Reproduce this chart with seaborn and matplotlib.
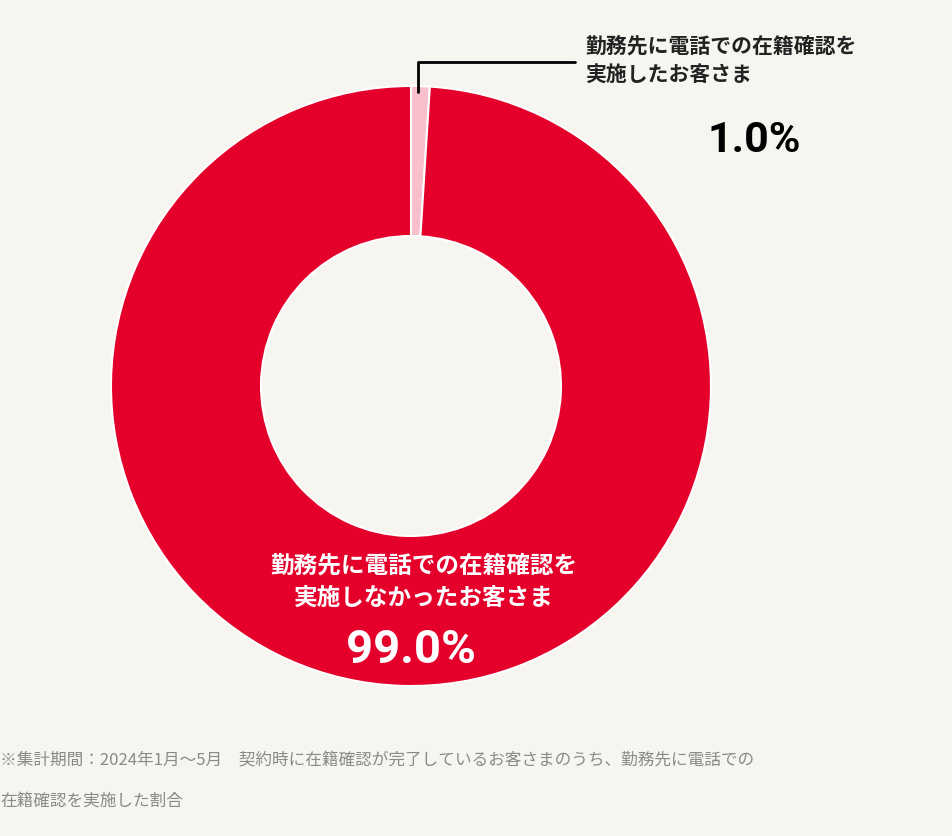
import matplotlib.pyplot as plt
import seaborn as sns

labels = ["勤務先に電話での在籍確認を\n実施したお客さま", "勤務先に電話での在籍確認を\n実施しなかったお客さま"]
shares = [1.0, 99.0]
colors = ["#f9bfca", "#e4002b"]
note_lines = [
    "※集計期間：2024年1月〜5月　契約時に在籍確認が完了しているお客さまのうち、勤務先に電話での",
    "在籍確認を実施した割合",
]

sns.set_theme(style="white", rc={"font.family": "Noto Sans CJK JP"})
W, H = 952, 836
BG = "#f7f5f0"
fig = plt.figure(figsize=(W / 100, H / 100), dpi=100, facecolor=BG)
ax = fig.add_axes([0, 0, 1, 1])
ax.set_facecolor(BG)
ax.set_xlim(0, W)
ax.set_ylim(0, H)
ax.set_aspect("equal")
ax.axis("off")


def Y(y):
    return H - y


cx, cy, r = 411, 386, 300
ax.pie(shares, colors=colors, startangle=90, counterclock=False,
       center=(cx, Y(cy)), radius=r, frame=True,
       wedgeprops=dict(width=150, edgecolor="white", linewidth=1.5))
ax.set_xlim(0, W)
ax.set_ylim(0, H)
ax.axis("off")

# leader line for the small slice
ax.plot([418, 418, 575], [Y(92), Y(62), Y(62)], color="black", lw=2)
ax.text(585, Y(60), labels[0], ha="left", va="center", fontsize=15,
        fontweight="bold", color="#222222", linespacing=1.45)
ax.text(754, Y(140), f"{shares[0]:.1f}%", ha="center", va="center",
        fontsize=31, fontweight="bold", color="black", family="Roboto")

ax.text(424, Y(582), labels[1], ha="center", va="center", fontsize=17,
        fontweight="bold", color="white", linespacing=1.45)
ax.text(411, Y(650), f"{shares[1]:.1f}%", ha="center", va="center",
        fontsize=34, fontweight="bold", color="white", family="Roboto")

for i, line in enumerate(note_lines):
    ax.text(0, Y(761 + 40 * i), line, ha="left", va="center",
            fontsize=12, color="#8a8a8a")

fig.savefig("out.png", dpi=100, facecolor=BG)
